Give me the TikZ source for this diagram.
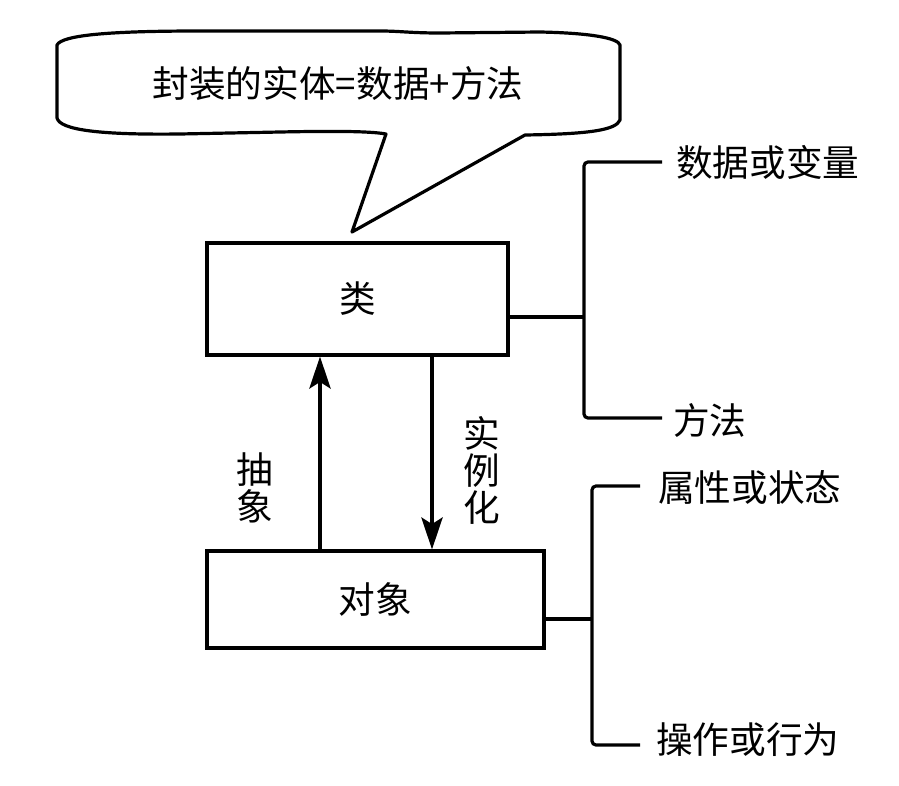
\documentclass[tikz,border=0pt]{standalone}
\usepackage{fontspec}
\setmainfont{Noto Sans CJK SC}
\usetikzlibrary{arrows.meta,calc}
\begin{document}
\begin{tikzpicture}[x=0.75pt,y=-0.75pt,
  lw/.style={line width=2.4pt},
  box/.style={draw,lw,inner sep=0pt,font=\fontsize{27.5}{30}\selectfont},
  lbl/.style={inner sep=0pt,font=\fontsize{27.5}{30}\selectfont},
  vlbl/.style={inner sep=0pt,align=center,font=\fontsize{27.5}{27.75}\selectfont},
  arr/.style={lw,-{Stealth[length=24pt,width=16pt,inset=5pt]}},
  brk/.style={lw,rounded corners=3pt}]
\useasboundingbox (0,0) rectangle (899,785);
% callout
\draw[lw,line join=round]
  (57,45) .. controls (62,35) and (110,31) .. (200,31) -- (380,31)
  .. controls (400,31) and (410,33) .. (440,33) -- (540,32)
  .. controls (590,33) and (618,38) .. (620,45) -- (620,120)
  .. controls (616,130) and (590,134) .. (525,135) -- (352,232) -- (386,134)
  .. controls (370,131) and (330,131) .. (280,132) -- (180,134)
  .. controls (100,135) and (60,130) .. (57,118) -- cycle;
\node[lbl] (ct) at (338,84) {封装的实体=数据+方法};
% boxes
\node[box,minimum width=225.75pt,minimum height=84pt] (cls) at (357.5,299) {类};
\node[box,minimum width=252.75pt,minimum height=72.75pt] (obj) at (375.5,599.5) {对象};
% arrows
\coordinate (ax) at (320,0);
\coordinate (bx) at (432,0);
\draw[arr] (obj.north -| ax) -- (cls.south -| ax);
\draw[arr] (cls.south -| bx) -- (obj.north -| bx);
\node[vlbl] (abs) at (255,488) {抽\\象};
\node[vlbl] (ins) at (482,470) {实\\例\\化};
% upper bracket
\node[lbl,anchor=west] (t1) at (676,162) {数据或变量};
\node[lbl,anchor=west] (t2) at (673,420) {方法};
\coordinate (e1) at (662,162);
\coordinate (e2) at (662,418);
\coordinate (j1) at (584,317);
\draw[brk] (e1) -| (j1) |- (e2);
\draw[lw] (j1 -| cls.east) -- (j1);
% lower bracket
\node[lbl,anchor=west] (t3) at (658,488) {属性或状态};
\node[lbl,anchor=west] (t4) at (656,740) {操作或行为};
\coordinate (e3) at (640,486);
\coordinate (e4) at (640,745);
\coordinate (j2) at (592,619);
\draw[brk] (e3) -| (j2) |- (e4);
\draw[lw] (j2 -| obj.east) -- (j2);
\end{tikzpicture}
\end{document}
